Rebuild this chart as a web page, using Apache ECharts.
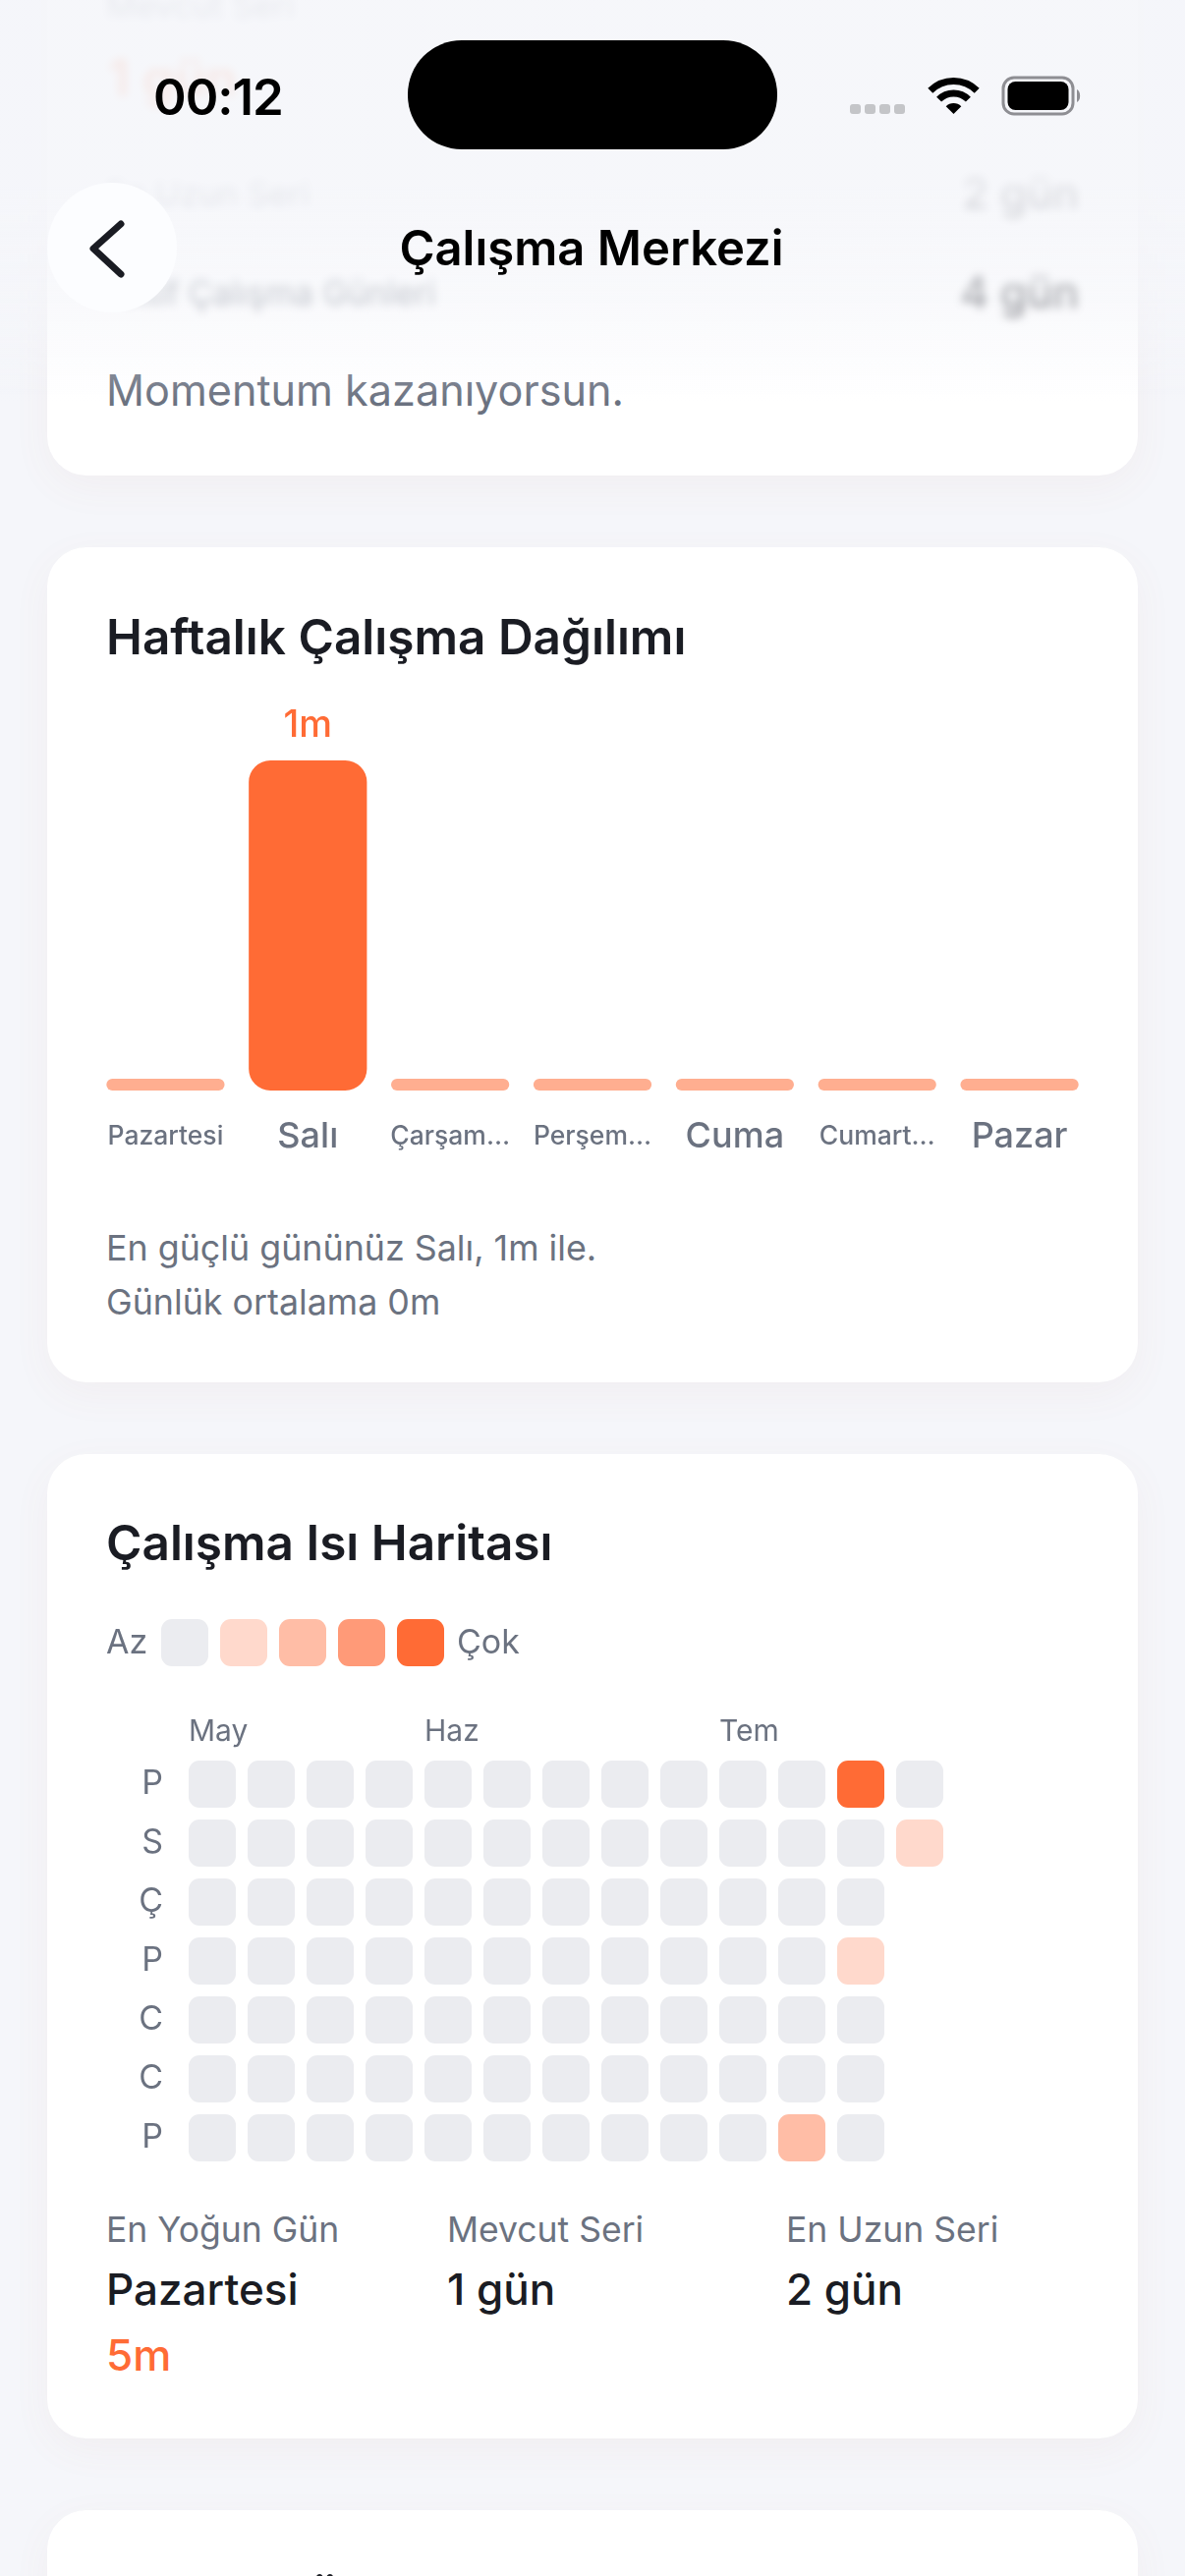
<!DOCTYPE html>
<html>
<head>
<meta charset="utf-8">
<title>Çalışma Merkezi</title>
<script src="https://cdn.jsdelivr.net/npm/echarts@6/dist/echarts.min.js"></script>
<style>
html, body { margin: 0; padding: 0; width: 1206px; height: 2622px; overflow: hidden; background: #f5f6fa; font-family: Inter, sans-serif; }
.card { position: absolute; left: 48px; width: 1110px; background: #fff; border-radius: 40px; box-shadow: 0 12px 40px rgba(180, 100, 80, 0.05); }
.t { position: absolute; white-space: nowrap; line-height: 1; transform: translateY(-50%); color: #6b7280; }
.blur { filter: blur(5px); }
#chart { position: absolute; left: 0; top: 0; width: 1206px; height: 2622px; z-index: 2; }
#fade { position: absolute; left: 0; top: 0; width: 1206px; height: 410px; z-index: 3;
  background: linear-gradient(to bottom, rgba(245,246,250,.9) 0, rgba(245,246,250,.9) 190px, rgba(245,246,250,.66) 300px, rgba(245,246,250,0) 100%); }
#head { position: absolute; left: 0; top: 0; width: 1206px; height: 330px; z-index: 4; }
</style>
</head>
<body>

<div class="card" style="top:-240px;height:724px"></div>
<div class="card" style="top:557px;height:850px"></div>
<div class="card" style="top:1480px;height:1002px"></div>
<div class="card" style="top:2555px;height:300px"></div>

<div class="t blur" style="left:108px;top:6px;font-size:34px">Mevcut Seri</div>
<div class="t blur" style="left:110px;top:80px;font-size:52px;font-weight:600;color:#ff6b35">1 gün</div>
<div class="t blur" style="left:108px;top:197px;font-size:34px">En Uzun Seri</div>
<div class="t blur" style="right:108px;top:196px;font-size:44px;font-weight:500;color:#1a1c23">2 gün</div>
<div class="t blur" style="left:108px;top:298px;font-size:34px">Aktif Çalışma Günleri</div>
<div class="t blur" style="right:108px;top:297px;font-size:44px;font-weight:500;color:#1a1c23">4 gün</div>
<div class="t" style="left:108px;top:398px;font-size:43.200px">Momentum kazanıyorsun.</div>

<div class="t" style="left:108px;top:1271px;font-size:35.800px">En güçlü gününüz Salı, 1m ile.</div>
<div class="t" style="left:108px;top:1326px;font-size:35.800px">Günlük ortalama 0m</div>

<div class="t" style="left:108px;top:2270px;font-size:35.500px">En Yoğun Gün</div>
<div class="t" style="left:455px;top:2270px;font-size:35.500px">Mevcut Seri</div>
<div class="t" style="left:800px;top:2270px;font-size:35.500px">En Uzun Seri</div>
<div class="t" style="left:108px;top:2330px;font-size:44px;font-weight:500;color:#1a1c23">Pazartesi</div>
<div class="t" style="left:455px;top:2330px;font-size:44px;font-weight:500;color:#1a1c23">1 gün</div>
<div class="t" style="left:800px;top:2330px;font-size:44px;font-weight:500;color:#1a1c23">2 gün</div>
<div class="t" style="left:108px;top:2397px;font-size:44px;font-weight:500;color:#ff6b35">5m</div>
<div class="t" style="left:108px;top:2649px;font-size:49.500px;font-weight:600;color:#1a1c23">Çalışma Özeti</div>

<div id="chart"></div>
<div id="fade"></div>

<div id="head">
  <div class="t" style="left:156px;top:98px;font-size:51px;font-weight:600;color:#000;letter-spacing:-1px">00:12</div>
  <div class="t" style="left:0;width:1204px;text-align:center;top:252px;font-size:49px;font-weight:600;color:#000">Çalışma Merkezi</div>
  <div style="position:absolute;left:48px;top:186px;width:132px;height:132px;border-radius:50%;background:#fcfdff"></div>
  <svg width="1206" height="330" style="position:absolute;left:0;top:0">
    <rect x="415" y="41" width="376" height="111" rx="55" fill="#000"/>
    <g fill="#c4c5c8">
      <rect x="865" y="106" width="11" height="10" rx="3"/>
      <rect x="880" y="106" width="11" height="10" rx="3"/>
      <rect x="895" y="106" width="11" height="10" rx="3"/>
      <rect x="910" y="106" width="11" height="10" rx="3"/>
    </g>
    <g fill="none" stroke="#000" stroke-width="7">
      <path d="M946.8 92.3 A33.5 33.5 0 0 1 994.2 92.3"/>
      <path d="M955.6 101.1 A21 21 0 0 1 985.4 101.1"/>
    </g>
    <path d="M970.5 116 L962.7 108.2 A11 11 0 0 1 978.3 108.2 Z" fill="#000"/>
    <rect x="1021" y="79" width="71" height="37" rx="11" fill="none" stroke="#8e8e93" stroke-width="3"/>
    <rect x="1025.500" y="83" width="62" height="29" rx="8" fill="#000"/>
    <path d="M1096 91 a5 7 0 0 1 0 13 Z" fill="#8e8e93"/>
    <path d="M123 228 L95 253 L123 279" fill="none" stroke="#1a1c23" stroke-width="7" stroke-linecap="round" stroke-linejoin="round"/>
  </svg>
</div>

<script>
// haftalik dagilim
var weekDays = ['Pazartesi', 'Salı', 'Çarşam…', 'Perşem…', 'Cuma', 'Cumart…', 'Pazar'];
var weekMinutes = [0, 1, 0, 0, 0, 0, 0];

// isi haritasi, seviye 0-4
var months = ['May', '', '', '', 'Haz', '', '', '', '', 'Tem', '', '', ''];
var dayLetters = ['P', 'S', 'Ç', 'P', 'C', 'C', 'P'];
var row0 = [0, 0, 0, 0, 0, 0, 0, 0, 0, 0, 0, 4, 0];
var row1 = [0, 0, 0, 0, 0, 0, 0, 0, 0, 0, 0, 0, 1];
var row2 = [0, 0, 0, 0, 0, 0, 0, 0, 0, 0, 0, 0];
var row3 = [0, 0, 0, 0, 0, 0, 0, 0, 0, 0, 0, 1];
var row4 = [0, 0, 0, 0, 0, 0, 0, 0, 0, 0, 0, 0];
var row5 = [0, 0, 0, 0, 0, 0, 0, 0, 0, 0, 0, 0];
var row6 = [0, 0, 0, 0, 0, 0, 0, 0, 0, 0, 2, 0];
var levelColors = ['#ebecf0', '#ffd9cc', '#ffbda6', '#ff9a78', '#ff6b35'];

var orange = '#ff6b35';
var gray = '#6b7280';
var font = 'Inter';

var heatData = [];
[row0, row1, row2, row3, row4, row5, row6].forEach(function (row, r) {
  row.forEach(function (level, c) {
    heatData.push([c, r, level]);
  });
});

var bigDays = { 'Salı': 1, 'Cuma': 1, 'Pazar': 1 };

var myChart = echarts.init(document.getElementById('chart'));

var legendCells = levelColors.map(function (color, i) {
  return {
    type: 'rect',
    shape: { x: 164 + i * 60, y: 1648, width: 48, height: 48, r: 11 },
    style: { fill: color }
  };
});

var option = {
  animation: false,
  title: [
    { text: 'Haftalık Çalışma Dağılımı', left: 103, top: 621,
      textStyle: { fontFamily: font, fontSize: 49.5, fontWeight: 600, color: '#1a1c23' } },
    { text: 'Çalışma Isı Haritası', left: 103, top: 1543,
      textStyle: { fontFamily: font, fontSize: 49.5, fontWeight: 600, color: '#1a1c23' } }
  ],
  graphic: legendCells.concat([
    { type: 'text', x: 108, y: 1673, style: { text: 'Az', fontFamily: font, fontSize: 34, fill: gray, textVerticalAlign: 'middle' } },
    { type: 'text', x: 465, y: 1673, style: { text: 'Çok', fontFamily: font, fontSize: 34, fill: gray, textVerticalAlign: 'middle' } }
  ]),
  grid: [
    { left: 96, top: 774, width: 1014, height: 336 },
    { left: 186, top: 1786, width: 780, height: 420 }
  ],
  xAxis: [
    {
      gridIndex: 0,
      type: 'category',
      data: weekDays.map(function (d) {
        return { value: d, textStyle: { fontSize: bigDays[d] ? 36 : 26.5 } };
      }),
      axisLine: { show: false },
      axisTick: { show: false },
      axisLabel: { interval: 0, margin: 29, color: gray, fontFamily: font, fontWeight: 500, verticalAlign: 'middle', lineHeight: 36 }
    },
    {
      gridIndex: 1,
      type: 'category',
      position: 'top',
      data: months,
      axisLine: { show: false },
      axisTick: { show: false },
      axisLabel: { interval: 0, margin: 8, align: 'left', padding: [0, 0, 0, -24], color: gray, fontFamily: font, fontSize: 30 }
    }
  ],
  yAxis: [
    { gridIndex: 0, type: 'value', min: 0, max: 1, show: false },
    {
      gridIndex: 1,
      type: 'category',
      inverse: true,
      data: dayLetters,
      axisLine: { show: false },
      axisTick: { show: false },
      axisLabel: { interval: 0, margin: 20, padding: [6, 0, 0, 0], color: gray, fontFamily: font, fontSize: 34 }
    }
  ],
  series: [
    {
      type: 'bar',
      xAxisIndex: 0,
      yAxisIndex: 0,
      barCategoryGap: '17%',
      barMinHeight: 12,
      data: weekMinutes.map(function (v) {
        return {
          value: v,
          itemStyle: { color: v > 0 ? orange : '#ffae90', borderRadius: v > 0 ? 22 : 6 },
          label: { show: v > 0 }
        };
      }),
      label: { position: 'top', distance: 16, formatter: '{c}m', color: orange, fontFamily: font, fontSize: 38, fontWeight: 500 }
    },
    {
      type: 'custom',
      xAxisIndex: 1,
      yAxisIndex: 1,
      data: heatData,
      encode: { x: 0, y: 1 },
      renderItem: function (params, api) {
        var p = api.coord([api.value(0), api.value(1)]);
        var s = api.size([1, 1]);
        return {
          type: 'rect',
          shape: { x: p[0] - s[0] / 2 + 6, y: p[1] - s[1] / 2 + 6, width: s[0] - 12, height: s[1] - 12, r: 11 },
          style: { fill: levelColors[api.value(2)] }
        };
      }
    }
  ]
};
myChart.setOption(option);
</script>
</body>
</html>
